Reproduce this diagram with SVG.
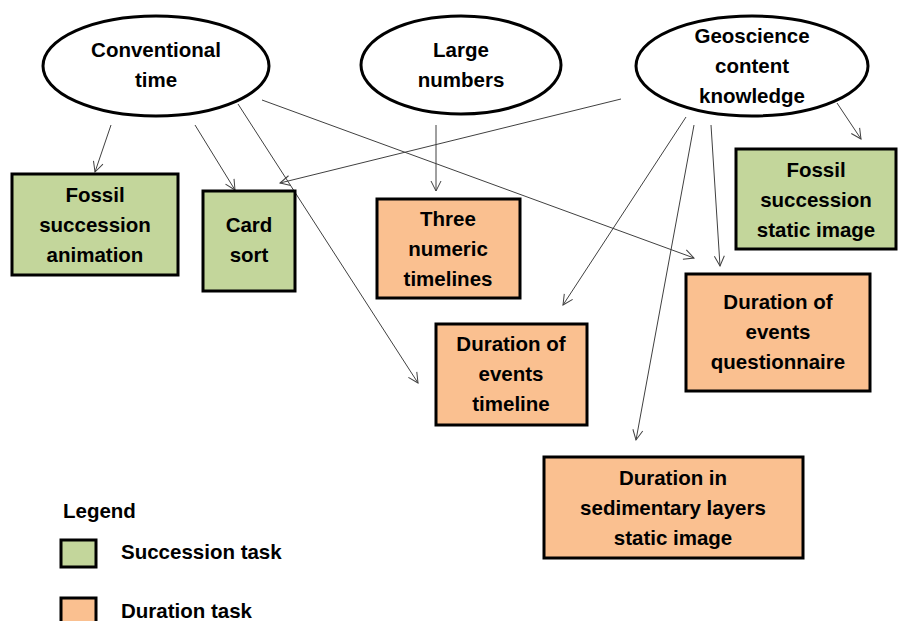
<svg xmlns="http://www.w3.org/2000/svg" width="900" height="621" viewBox="0 0 900 621">
<style>
text{font-family:"Liberation Sans",Arial,sans-serif;font-weight:bold;font-size:20.5px;fill:#000;text-anchor:middle}
.lg{text-anchor:start}
.ell{fill:#fff;stroke:#000;stroke-width:3}
.succ{fill:#C3D69B;stroke:#000;stroke-width:3}
.dur{fill:#FAC090;stroke:#000;stroke-width:3}
.con line{stroke:#404040;stroke-width:1;fill:none;marker-end:url(#arr)}
</style>
<defs>
<marker id="arr" viewBox="0 0 12 12" refX="11" refY="6" markerWidth="12" markerHeight="12" markerUnits="userSpaceOnUse" orient="auto">
<path d="M1,1 L11,6 L1,11" fill="none" stroke="#404040" stroke-width="1"/>
</marker>
</defs>
<rect width="900" height="621" fill="#fff"/>
<g class="con">
<line x1="111" y1="125" x2="95" y2="172"/>
<line x1="195" y1="125" x2="235" y2="190"/>
<line x1="238" y1="104" x2="418" y2="383"/>
<line x1="262" y1="100" x2="694" y2="258"/>
<line x1="621" y1="99" x2="280" y2="183"/>
<line x1="436" y1="125" x2="436" y2="191"/>
<line x1="837" y1="103" x2="861" y2="139"/>
<line x1="711" y1="125" x2="720" y2="266"/>
<line x1="694" y1="125" x2="636" y2="440"/>
<line x1="686" y1="117" x2="563" y2="305"/>
</g>
<g id="conventional-time">
<ellipse class="ell" cx="156" cy="66" rx="113" ry="50"/>
<text x="156" y="57">Conventional</text>
<text x="156" y="87">time</text>
</g>
<g id="large-numbers">
<ellipse class="ell" cx="461" cy="65" rx="100" ry="49"/>
<text x="461" y="57">Large</text>
<text x="461" y="87">numbers</text>
</g>
<g id="geoscience">
<ellipse class="ell" cx="752" cy="66" rx="116" ry="50"/>
<text x="752" y="43">Geoscience</text>
<text x="752" y="73">content</text>
<text x="752" y="103">knowledge</text>
</g>
<g id="fossil-animation">
<rect class="succ" x="12" y="174" width="166" height="101"/>
<text x="95" y="202">Fossil</text>
<text x="95" y="232">succession</text>
<text x="95" y="262">animation</text>
</g>
<g id="card-sort">
<rect class="succ" x="203" y="191" width="92" height="100"/>
<text x="249" y="232">Card</text>
<text x="249" y="262">sort</text>
</g>
<g id="three-numeric">
<rect class="dur" x="377" y="199" width="143" height="99"/>
<text x="448" y="226">Three</text>
<text x="448" y="256">numeric</text>
<text x="448" y="286">timelines</text>
</g>
<g id="fossil-static">
<rect class="succ" x="736" y="149" width="160" height="100"/>
<text x="816" y="177">Fossil</text>
<text x="816" y="207">succession</text>
<text x="816" y="237">static image</text>
</g>
<g id="duration-questionnaire">
<rect class="dur" x="686" y="274" width="184" height="117"/>
<text x="778" y="309">Duration of</text>
<text x="778" y="339">events</text>
<text x="778" y="369">questionnaire</text>
</g>
<g id="duration-timeline">
<rect class="dur" x="436" y="324" width="151" height="101"/>
<text x="511" y="351">Duration of</text>
<text x="511" y="381">events</text>
<text x="511" y="411">timeline</text>
</g>
<g id="duration-sedimentary">
<rect class="dur" x="544" y="457" width="259" height="101"/>
<text x="673" y="485">Duration in</text>
<text x="673" y="515">sedimentary layers</text>
<text x="673" y="545">static image</text>
</g>
<g id="legend">
<text class="lg" x="63" y="518">Legend</text>
<rect class="succ" x="61" y="540" width="35" height="27"/>
<text class="lg" x="121" y="559">Succession task</text>
<rect class="dur" x="61" y="598" width="35" height="30"/>
<text class="lg" x="121" y="618">Duration task</text>
</g>
</svg>
